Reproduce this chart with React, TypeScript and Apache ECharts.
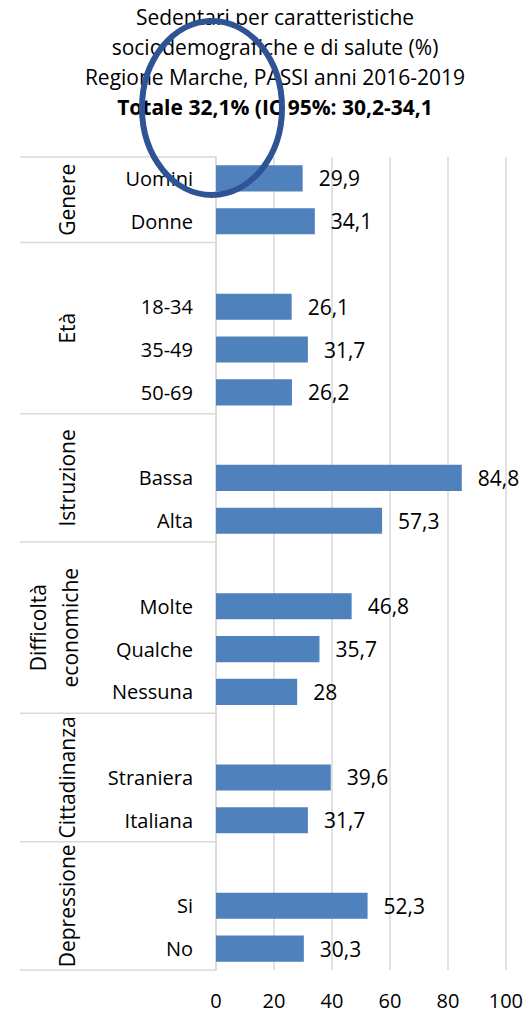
import React, { useEffect, useRef } from "react";
import * as echarts from "echarts";

const titleLines = [
  "Sedentari per caratteristiche",
  "sociodemografiche e di salute (%)",
  "Regione Marche, PASSI anni 2016-2019",
];
const titleBold = "Totale 32,1% (IC 95%: 30,2-34,1";

const groupNames = ["Genere", "Età", "Istruzione", "Difficoltà\neconomiche", "Cittadinanza", "Depressione"];
const groupSpans = [2, 4, 3, 4, 3, 3];

const categories = [
  "Uomini", "Donne",
  "", "18-34", "35-49", "50-69",
  "", "Bassa", "Alta",
  "", "Molte", "Qualche", "Nessuna",
  "", "Straniera", "Italiana",
  "", "Si", "No",
];
const values: (number | null)[] = [
  29.9, 34.1,
  null, 26.1, 31.7, 26.2,
  null, 84.8, 57.3,
  null, 46.8, 35.7, 28,
  null, 39.6, 31.7,
  null, 52.3, 30.3,
];
const xTicks = [0, 20, 40, 60, 80, 100];

const FONT = "Open Sans";

export default function App() {
  const ref = useRef<HTMLDivElement>(null);
  useEffect(() => {
    if (!ref.current) return;
    const chart = echarts.init(ref.current, undefined, { renderer: "svg" });
    chart.setOption({
      animation: false,
      grid: { left: 216, right: 17, top: 157, bottom: 43, containLabel: false },
      xAxis: {
        type: "value",
        min: xTicks[0],
        max: xTicks[xTicks.length - 1],
        interval: 20,
        axisLine: { show: false },
        axisTick: { show: false },
        axisLabel: { color: "#000", fontFamily: FONT, fontSize: 20, margin: 20 },
        splitLine: { show: true, lineStyle: { color: "#d9d9d9", width: 1.5 } },
      },
      yAxis: {
        type: "category",
        inverse: true,
        data: categories,
        axisLine: { show: true, lineStyle: { color: "#d9d9d9", width: 1.5 } },
        axisTick: { show: false },
        axisLabel: { color: "#000", fontFamily: FONT, fontSize: 20, margin: 23, interval: 0 },
      },
      series: [
        {
          type: "bar",
          data: values,
          barCategoryGap: "39%",
          itemStyle: { color: "#4F81BD" },
          label: {
            show: true,
            position: "right",
            distance: 16,
            color: "#000",
            fontFamily: FONT,
            fontSize: 21,
            formatter: (p: any) => (p.value == null ? "" : String(p.value).replace(".", ",")),
          },
        },
      ],
    });

    const center = (i: number) => chart.convertToPixel({ yAxisIndex: 0 }, i) as number;
    const band = center(1) - center(0);
    const graphics: any[] = [];
    let start = 0;
    const lineX0 = 20;
    const lineX1 = 216;
    const boundaries: number[] = [center(0) - band / 2];
    groupSpans.forEach((span, gi) => {
      const top = center(start) - band / 2;
      const bottom = center(start + span - 1) + band / 2;
      boundaries.push(bottom);
      const twoLine = groupNames[gi].includes("\n");
      graphics.push({
        type: "text",
        x: twoLine ? 53.5 : 67,
        y: (top + bottom) / 2,
        rotation: Math.PI / 2,
        style: {
          text: groupNames[gi],
          fontFamily: FONT,
          fontSize: 21,
          lineHeight: 32,
          fill: "#000",
          align: "center",
          verticalAlign: "middle",
        },
      });
      start += span;
    });
    boundaries.forEach((y) => {
      graphics.push({
        type: "line",
        shape: { x1: lineX0, y1: y, x2: lineX1, y2: y },
        style: { stroke: "#d9d9d9", lineWidth: 1.5 },
      });
    });
    graphics.push({
      type: "text",
      x: 275,
      y: 2,
      style: {
        text:
          titleLines.map((t) => `{n|${t}}`).join("\n") + `\n{b|${titleBold}}`,
        align: "center",
        verticalAlign: "top",
        rich: {
          n: { fontFamily: FONT, fontSize: 21, lineHeight: 30, fill: "#000" },
          b: { fontFamily: FONT, fontSize: 21, lineHeight: 30, fontWeight: "bold", fill: "#000" },
        },
      },
    });
    graphics.push({
      type: "ellipse",
      shape: { cx: 212, cy: 108, rx: 70, ry: 87 },
      style: { fill: "none", stroke: "#2F5496", lineWidth: 6 },
      z: 100,
    });
    chart.setOption({ graphic: graphics });

    return () => chart.dispose();
  }, []);
  return (
    <div
      ref={ref}
      style={{ position: "absolute", left: 0, top: 0, width: 526, height: 1013, background: "#fff" }}
    />
  );
}
